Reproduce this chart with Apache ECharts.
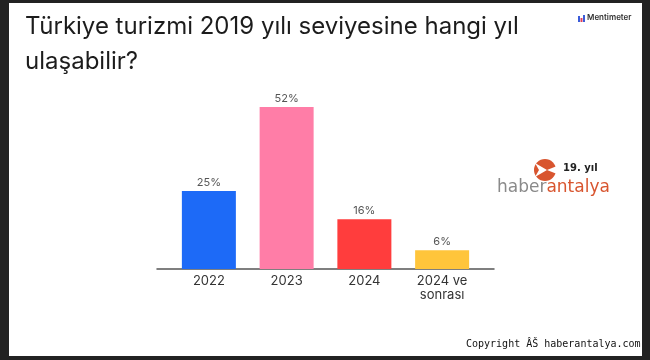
<!DOCTYPE html>
<html>
<head>
<meta charset="utf-8">
<script src="https://cdn.jsdelivr.net/npm/echarts@6/dist/echarts.min.js"></script>
<style>
html,body{margin:0;padding:0;background:#222;}
#chart{width:650px;height:360px;}
</style>
</head>
<body>
<div id="chart"></div>
<script>
var categories = ['2022', '2023', '2024', '2024 ve\nsonrası'];
var values = [25, 52, 16, 6];
var barColors = ['#1d6af7', '#ff7da7', '#ff3d3d', '#ffc53b'];
var titleText = 'Türkiye turizmi 2019 yılı seviyesine hangi yıl\nulaşabilir?';

var chart = echarts.init(document.getElementById('chart'));
chart.setOption({
  backgroundColor: '#222222',
  animation: false,
  title: {
    text: titleText,
    left: 20,
    top: 4,
    textStyle: {
      fontFamily: 'Inter',
      fontSize: 24,
      fontWeight: 'normal',
      lineHeight: 35,
      color: '#1c1c1c'
    }
  },
  graphic: [
    { type: 'rect', z: -10, silent: true, shape: { x: 9, y: 3, width: 633, height: 353 }, style: { fill: '#ffffff' } },
    { type: 'rect', z: 10, shape: { x: 578, y: 16, width: 2, height: 6 }, style: { fill: '#3a5bd9' } },
    { type: 'rect', z: 10, shape: { x: 580.5, y: 18, width: 2, height: 4 }, style: { fill: '#e0415a' } },
    { type: 'rect', z: 10, shape: { x: 583, y: 15, width: 2, height: 7 }, style: { fill: '#3a5bd9' } },
    { type: 'text', z: 10, left: 587, top: 14, style: { text: 'Mentimeter', font: '600 8px Inter', fill: '#333' } },
    { type: 'circle', z: 10, shape: { cx: 545, cy: 170, r: 11 }, style: { fill: '#d8552f' } },
    { type: 'polygon', z: 11, shape: { points: [[535, 163], [547, 170], [535, 177], [539, 170]] }, style: { fill: '#ffffff' } },
    { type: 'polygon', z: 11, shape: { points: [[547, 170], [557, 166], [557, 174]] }, style: { fill: '#ffffff' } },
    { type: 'text', z: 10, left: 563, top: 163, style: { text: '19. yıl', font: 'bold 10px "DejaVu Sans"', fill: '#222' } },
    { type: 'text', z: 10, left: 497, top: 179, style: {
        text: '{a|haber}{b|antalya}',
        rich: {
          a: { fontFamily: 'DejaVu Sans', fontSize: 17, fill: '#8a8a8a', color: '#8a8a8a' },
          b: { fontFamily: 'DejaVu Sans', fontSize: 17, fill: '#d8552f', color: '#d8552f' }
        }
    } },
    { type: 'text', z: 10, left: 466, top: 339, style: { text: 'Copyright ÂŠ haberantalya.com', font: '10px "DejaVu Sans Mono"', fill: '#111' } }
  ],
  grid: [
    { left: 170, width: 311, top: 107, height: 162 },
    { left: 157, width: 337, top: 107, height: 162 }
  ],
  xAxis: [
    {
      type: 'category', gridIndex: 0, data: categories,
      axisLine: { show: false }, axisTick: { show: false },
      axisLabel: { color: '#333', fontFamily: 'Inter', fontSize: 13, margin: 5, lineHeight: 14 }
    },
    {
      type: 'value', gridIndex: 1, min: 0, max: 1,
      axisLine: { show: true, lineStyle: { color: '#555', width: 1.5 } },
      axisTick: { show: false }, axisLabel: { show: false }, splitLine: { show: false }
    }
  ],
  yAxis: [
    { type: 'value', gridIndex: 0, min: 0, max: 52, show: false, splitLine: { show: false } },
    { type: 'value', gridIndex: 1, min: 0, max: 1, show: false, splitLine: { show: false } }
  ],
  series: [{
    type: 'bar',
    xAxisIndex: 0, yAxisIndex: 0,
    barWidth: 54,
    data: values.map(function (v, i) { return { value: v, itemStyle: { color: barColors[i] } }; }),
    label: {
      show: true, position: 'top', distance: 3,
      formatter: '{c}%', color: '#555', fontFamily: 'Inter', fontSize: 11
    }
  }]
});
</script>
</body>
</html>
